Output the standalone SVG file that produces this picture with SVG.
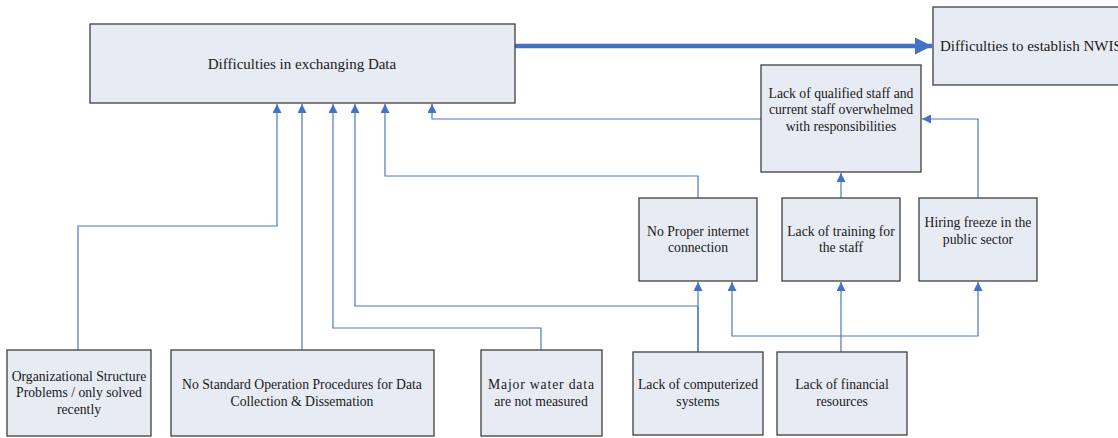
<svg xmlns="http://www.w3.org/2000/svg" width="1118" height="438" viewBox="0 0 1118 438">
  <style>
    .box { fill: #e7ebf4; stroke: #3f3f3f; stroke-width: 1.3; }
    .lbl { font-family: "Liberation Serif", "DejaVu Serif", serif; font-size: 13.7px; fill: #1a1a1a; text-anchor: middle; }
    .big { font-size: 15px; }
    .link { fill: none; stroke: #4a78c6; stroke-width: 1.2; marker-end: url(#tri); }
    .thick { fill: none; stroke: #4472c4; stroke-width: 4.5; marker-end: url(#triBig); }
  </style>
  <defs>
    <marker id="tri" viewBox="0 0 10 10" refX="10" refY="5" markerWidth="9" markerHeight="9" markerUnits="userSpaceOnUse" orient="auto">
      <path d="M0,0 L10,5 L0,10 z" fill="#4472c4"/>
    </marker>
    <marker id="triBig" viewBox="0 0 10 10" refX="10" refY="5" markerWidth="24" markerHeight="17" markerUnits="userSpaceOnUse" orient="auto">
      <path d="M0,0 L10,5 L0,10 z" fill="#4472c4"/>
    </marker>
  </defs>

  <g id="connectors">
    <path class="thick" d="M515,46 H932"/>
    <path class="link" d="M761,119 H432 V104"/>
    <path class="link" d="M698,198 V176 H385 V104"/>
    <path class="link" d="M78,350 V226 H277 V104"/>
    <path class="link" d="M302,350 V104"/>
    <path class="link" d="M541,350 V328 H333 V104"/>
    <path class="link" d="M698,352 V306 H355 V104"/>
    <path class="link" d="M698,352 V282"/>
    <path class="link" d="M841,352 V282"/>
    <path class="link" d="M841,336 H732 V282"/>
    <path class="link" d="M841,336 H978 V282"/>
    <path class="link" d="M841,198 V173"/>
    <path class="link" d="M978,198 V119 H922"/>
  </g>

  <g id="exchanging-data">
    <rect class="box" x="90" y="24" width="425" height="79"/>
    <text class="lbl big" x="302" y="69">Difficulties in exchanging Data</text>
  </g>
  <g id="establish-nwis">
    <rect class="box" x="933" y="7" width="190" height="78"/>
    <text class="lbl big" x="940" y="51" style="text-anchor:start">Difficulties to establish NWIS</text>
  </g>
  <g id="qualified-staff">
    <rect class="box" x="761" y="65" width="160" height="107"/>
    <text class="lbl" x="841" y="98">Lack of qualified staff and</text>
    <text class="lbl" x="841" y="114">current staff overwhelmed</text>
    <text class="lbl" x="841" y="131">with responsibilities</text>
  </g>
  <g id="internet">
    <rect class="box" x="639" y="198" width="118" height="83"/>
    <text class="lbl" x="698" y="236">No Proper internet</text>
    <text class="lbl" x="698" y="252">connection</text>
  </g>
  <g id="training">
    <rect class="box" x="782" y="198" width="118" height="83"/>
    <text class="lbl" x="841" y="236">Lack of training for</text>
    <text class="lbl" x="841" y="252">the staff</text>
  </g>
  <g id="hiring-freeze">
    <rect class="box" x="919" y="198" width="118" height="83"/>
    <text class="lbl" x="978" y="227">Hiring freeze in the</text>
    <text class="lbl" x="978" y="244">public sector</text>
  </g>
  <g id="organizational">
    <rect class="box" x="7" y="350" width="144" height="86"/>
    <text class="lbl" x="79" y="381">Organizational Structure</text>
    <text class="lbl" x="79" y="397">Problems / only solved</text>
    <text class="lbl" x="79" y="414">recently</text>
  </g>
  <g id="no-sop">
    <rect class="box" x="171" y="350" width="263" height="86"/>
    <text class="lbl" x="302" y="389">No Standard Operation Procedures for Data</text>
    <text class="lbl" x="302" y="406">Collection &amp; Dissemation</text>
  </g>
  <g id="water-data">
    <rect class="box" x="481" y="350" width="121" height="86"/>
    <text class="lbl" x="541" y="389" textLength="106" lengthAdjust="spacing">Major  water  data</text>
    <text class="lbl" x="541" y="406">are not measured</text>
  </g>
  <g id="computerized">
    <rect class="box" x="633" y="352" width="130" height="83"/>
    <text class="lbl" x="698" y="389">Lack of computerized</text>
    <text class="lbl" x="698" y="406">systems</text>
  </g>
  <g id="financial">
    <rect class="box" x="777" y="352" width="130" height="83"/>
    <text class="lbl" x="842" y="389">Lack of financial</text>
    <text class="lbl" x="842" y="406">resources</text>
  </g>
</svg>
